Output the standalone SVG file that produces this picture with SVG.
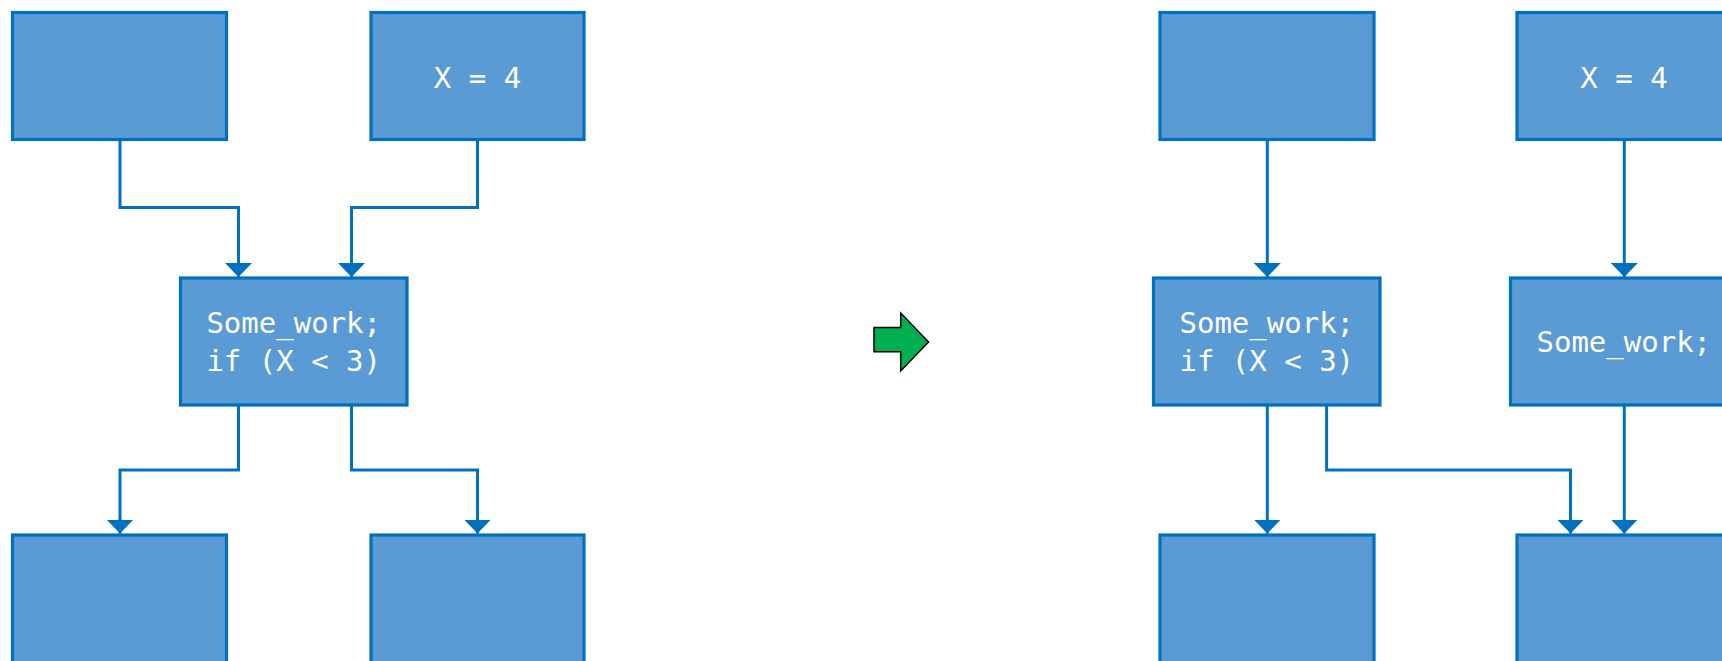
<svg xmlns="http://www.w3.org/2000/svg" width="1722" height="661" viewBox="0 0 1722 661">
<style>
.box{fill:#5B9BD5;stroke:#0070C0;stroke-width:3.2;stroke-linejoin:miter}
.lbl{font-family:"DejaVu Sans Mono","Liberation Mono",monospace;font-size:29px;fill:#FFFFFF;text-anchor:middle}
.conn{fill:none;stroke:#0070C0;stroke-width:3;marker-end:url(#ah)}
</style>
<defs>
<marker id="ah" viewBox="0 0 14 27" refX="14" refY="13.5" markerWidth="14" markerHeight="27" markerUnits="userSpaceOnUse" orient="auto">
<path d="M0,0 L14,13.5 L0,27 Z" fill="#0070C0"/>
</marker>
</defs>
<rect width="1722" height="661" fill="#FFFFFF"/>
<g id="left-top-a"><rect class="box" x="12.5" y="12.5" width="214" height="127"/></g>
<g id="left-top-b"><rect class="box" x="371" y="12.5" width="213" height="127"/><text class="lbl" x="477.5" y="88">X = 4</text></g>
<g id="left-mid"><rect class="box" x="180.5" y="278" width="226.5" height="127"/><text class="lbl" x="293.7" y="333">Some_work;</text><text class="lbl" x="293.7" y="371">if (X &lt; 3)</text></g>
<g id="left-bot-a"><rect class="box" x="12.5" y="535" width="214" height="200"/></g>
<g id="left-bot-b"><rect class="box" x="371" y="535" width="213" height="200"/></g>
<g id="arrow"><polygon points="874,327.5 900.7,327.5 900.7,313 928.5,342 900.7,371 900.7,351.7 874,351.7" fill="#00B050" stroke="#000000" stroke-width="1.5"/></g>
<g id="right-top-a"><rect class="box" x="1160" y="12.5" width="214" height="127"/></g>
<g id="right-top-b"><rect class="box" x="1517" y="12.5" width="214" height="127"/><text class="lbl" x="1624" y="88">X = 4</text></g>
<g id="right-mid-a"><rect class="box" x="1153.5" y="278" width="226.5" height="127"/><text class="lbl" x="1266.8" y="333">Some_work;</text><text class="lbl" x="1266.8" y="371">if (X &lt; 3)</text></g>
<g id="right-mid-b"><rect class="box" x="1510.5" y="278" width="226.5" height="127"/><text class="lbl" x="1623.8" y="352">Some_work;</text></g>
<g id="right-bot-a"><rect class="box" x="1160" y="535" width="214" height="200"/></g>
<g id="right-bot-b"><rect class="box" x="1517" y="535" width="214" height="200"/></g>
<g id="connectors">
<path class="conn" d="M120,141 V207.5 H238.5 V277"/>
<path class="conn" d="M477.5,141 V207.5 H351.5 V277"/>
<path class="conn" d="M238.5,406 V470 H120 V533.5"/>
<path class="conn" d="M351.5,406 V470 H477.5 V533.5"/>
<path class="conn" d="M1267.3,141 V277"/>
<path class="conn" d="M1624.3,141 V277"/>
<path class="conn" d="M1267.3,406 V533.5"/>
<path class="conn" d="M1624.3,406 V533.5"/>
<path class="conn" d="M1326.6,406 V470 H1570.5 V533.5"/>
</g>
</svg>
